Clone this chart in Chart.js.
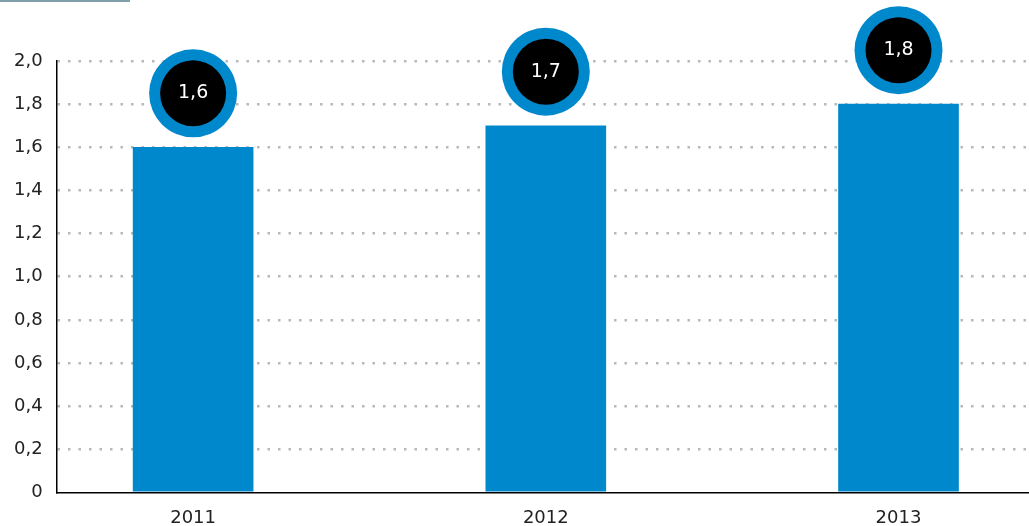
<!DOCTYPE html>
<html>
<head>
<meta charset="utf-8">
<script src="https://cdn.jsdelivr.net/npm/chart.js@4/dist/chart.umd.min.js"></script>
<style>
  html, body { margin: 0; padding: 0; background: #fff; }
  #wrap { position: relative; width: 1029px; height: 526px; overflow: hidden; }
  #topbar { position: absolute; left: 0; top: 0; width: 130px; height: 2px; background: #7fa0ab; }
</style>
</head>
<body>
<div id="wrap">
  <div id="topbar"></div>
  <canvas id="chart" width="1029" height="544"></canvas>
</div>
<script>
const years = ['2011', '2012', '2013'];
const values = [1.6, 1.7, 1.8];
const yTicks = [0, 0.2, 0.4, 0.6, 0.8, 1.0, 1.2, 1.4, 1.6, 1.8, 2.0];

const barColor = '#0088cc';
const fontFamily = '"DejaVu Sans", Verdana, sans-serif';

function fmt(v) {
    if (v === 0) return '0';
    return v.toFixed(1).replace('.', ',');
}

// circle badges above each bar
const badgePlugin = {
    id: 'badges',
    afterDatasetsDraw(chart) {
        const ctx = chart.ctx;
        const meta = chart.getDatasetMeta(0);
        meta.data.forEach((bar, i) => {
            const cx = bar.x;
            const cy = bar.y - 54;
            ctx.save();
            ctx.beginPath();
            ctx.arc(cx, cy, 44, 0, Math.PI * 2);
            ctx.fillStyle = barColor;
            ctx.fill();
            ctx.beginPath();
            ctx.arc(cx, cy, 33, 0, Math.PI * 2);
            ctx.fillStyle = '#000';
            ctx.fill();
            ctx.fillStyle = '#fff';
            ctx.font = '19px ' + fontFamily;
            ctx.textAlign = 'center';
            ctx.textBaseline = 'middle';
            ctx.fillText(fmt(values[i]), cx, cy);
            ctx.restore();
        });
    }
};

new Chart(document.getElementById('chart'), {
    type: 'bar',
    data: {
        datasets: [{
            data: years.map((y, i) => ({ x: Number(y), y: values[i] })),
            backgroundColor: barColor,
            barThickness: 120
        }]
    },
    options: {
        responsive: false,
        animation: false,
        layout: { padding: { top: 61, right: 0, left: 0, bottom: 0 } },
        plugins: { legend: { display: false }, tooltip: { enabled: false } },
        scales: {
            x: {
                type: 'linear',
                offset: false,
                min: 2010.613,
                max: 2013.37,
                afterBuildTicks: s => { s.ticks = years.map(y => ({ value: Number(y) })); },
                grid: { display: false, drawTicks: false },
                border: { display: true, color: '#000', width: 1.5 },
                ticks: {
                    color: '#222',
                    font: { family: fontFamily, size: 18 },
                    padding: 15,
                    callback: v => String(v)
                }
            },
            y: {
                min: 0,
                max: 2.0,
                afterBuildTicks: s => { s.ticks = yTicks.map(v => ({ value: v })); },
                grid: {
                    color: c => c.tick.value === 0 ? 'rgba(0,0,0,0)' : '#b8b8b8',
                    lineWidth: 2.5,
                    drawTicks: false
                },
                border: { display: true, color: '#000', width: 1.5, dash: [2.5, 8] },
                ticks: {
                    color: '#222',
                    font: { family: fontFamily, size: 18 },
                    padding: 14,
                    callback: v => fmt(v)
                }
            }
        }
    },
    plugins: [badgePlugin]
});
</script>
</body>
</html>
